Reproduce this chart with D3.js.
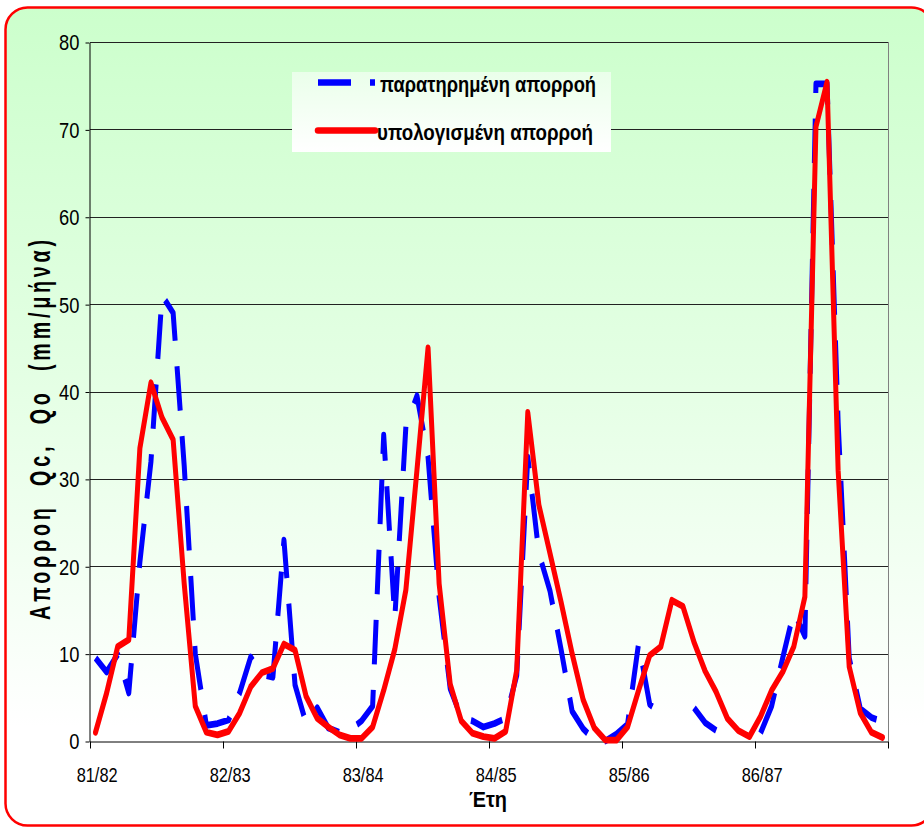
<!DOCTYPE html>
<html>
<head>
<meta charset="utf-8">
<script src="https://cdn.jsdelivr.net/npm/d3@7"></script>
<style>
  html, body { margin: 0; padding: 0; background: #ffffff; }
  svg { display: block; }
</style>
</head>
<body>
<svg id="chart" width="924" height="828"></svg>
<script>
// Hydrological years shown on the category axis (12 monthly values each)
const years = ["81/82", "82/83", "83/84", "84/85", "85/86", "86/87"];

// Observed monthly runoff (mm/month); null = no value plotted
const observed = [
  9.5, 7.9, 9.9, 5.5, 20.5, 32.0, 51.0, 49.0, 31.5, 10.0, 1.8, 2.0,
  2.4, 5.5, 9.6, 7.6, 7.3, 23.0, 6.4, 2.0, 3.8, 1.5, 1.0, 1.3,
  2.3, 4.0, 35.0, 14.0, 36.0, 39.5, 32.5, 16.5, 6.0, 2.7, 2.3, 1.6,
  2.0, 2.6, 7.5, 32.5, 21.5, 17.2, 10.5, 3.4, 1.4, 0.1, 0.0, 0.8,
  1.9, 11.2, 4.2, 3.2, null, null, 3.8, 2.1, 1.2, null, null, null,
  0.9, 4.0, 9.5, 14.8, 12.0, 75.2, 75.2, 36.5, 9.5, 3.7, 2.7, 2.2
];

// Computed (model) monthly runoff (mm/month)
const computed = [
  1.0, 5.5, 10.8, 11.6, 33.5, 41.0, 37.0, 34.5, 18.0, 4.0, 1.0, 0.7,
  1.1, 3.2, 6.2, 7.8, 8.3, 11.1, 10.4, 5.1, 2.6, 1.6, 0.7, 0.3,
  0.3, 1.6, 5.8, 10.5, 17.3, 31.0, 45.0, 18.0, 6.5, 2.3, 0.9, 0.5,
  0.3, 1.1, 8.1, 37.6, 27.0, 21.5, 15.9, 10.0, 4.7, 1.5, 0.1, 0.1,
  1.6, 5.8, 9.8, 10.8, 16.1, 15.4, 11.3, 8.0, 5.6, 2.6, 1.2, 0.5,
  2.8, 5.8, 7.9, 10.8, 16.5, 70.3, 75.4, 31.0, 8.5, 3.2, 1.0, 0.4
];

const yTicks = [0, 10, 20, 30, 40, 50, 60, 70, 80];

const seriesNames = ["παρατηρημένη απορροή", "υπολογισμένη απορροή"];
const yTitle = "Απορροη  Qc,  Qo  (mm/μήνα)";
const xTitle = "Έτη";

const svg = d3.select("#chart");
const plot = { left: 90, right: 888, top: 42, bottom: 741 };
const stretch = 1.35;            // the series are drawn vertically stretched
const FONT = "'Liberation Sans', Arial, sans-serif";

const defs = svg.append("defs");
const bg = defs.append("linearGradient").attr("id", "bgGrad")
  .attr("x1", 0).attr("y1", 0).attr("x2", 0).attr("y2", 1);
bg.append("stop").attr("offset", "0").attr("stop-color", "#ccffcc");
bg.append("stop").attr("offset", "0.45").attr("stop-color", "#e4ffe4");
bg.append("stop").attr("offset", "0.88").attr("stop-color", "#ffffff");
bg.append("stop").attr("offset", "1").attr("stop-color", "#ffffff");

const lg = defs.append("linearGradient").attr("id", "legGrad")
  .attr("x1", 0).attr("y1", 0).attr("x2", 0).attr("y2", 1);
lg.append("stop").attr("offset", "0").attr("stop-color", "#eaffea");
lg.append("stop").attr("offset", "1").attr("stop-color", "#ffffff");

// chart background with rounded red frame
svg.append("rect")
  .attr("x", 5.5).attr("y", 7.5).attr("width", 928).attr("height", 818)
  .attr("rx", 22).attr("ry", 22)
  .attr("fill", "url(#bgGrad)")
  .attr("stroke", "#ff0000").attr("stroke-width", 2.5);

// scales
const x = d3.scaleBand().domain(d3.range(observed.length)).range([plot.left, plot.right]);
const bw = x.bandwidth();
const xYear = d3.scaleLinear().domain([0, years.length]).range([plot.left, plot.right]);
const y = d3.scaleLinear().domain([0, 80]).range([plot.bottom, plot.top]);
const yLocal = d3.scaleLinear().domain([0, 80]).range([(plot.bottom - plot.top) / stretch, 0]);

// horizontal gridlines
svg.append("g")
  .selectAll("line").data(yTicks.filter(d => d > 0)).join("line")
  .attr("x1", plot.left).attr("x2", plot.right)
  .attr("y1", d => Math.round(y(d)) + 0.5).attr("y2", d => Math.round(y(d)) + 0.5)
  .attr("stroke", "#222").attr("stroke-width", 1);

// right border of the plot area
svg.append("line")
  .attr("x1", plot.right + 0.5).attr("x2", plot.right + 0.5)
  .attr("y1", Math.round(y(80))).attr("y2", plot.bottom)
  .attr("stroke", "#808080").attr("stroke-width", 1);

// y axis
const yAxis = svg.append("g")
  .attr("transform", `translate(${plot.left - 0.5},0.5)`)
  .call(d3.axisLeft(y).tickValues(yTicks).tickSize(4).tickPadding(6).tickSizeOuter(0));
yAxis.select(".domain").attr("stroke", "#000");
yAxis.selectAll(".tick line").attr("stroke", "#000");
yAxis.selectAll(".tick text")
  .attr("font-family", FONT).attr("font-size", 22).attr("fill", "#000")
  .attr("dy", "0.34em")
  .attr("textLength", d => String(d).length * 10.2)
  .attr("lengthAdjust", "spacingAndGlyphs");

// x axis with ticks at year boundaries
const xAxis = svg.append("g")
  .attr("transform", `translate(0,${plot.bottom + 0.5})`)
  .call(d3.axisBottom(xYear).tickValues(d3.range(years.length + 1)).tickFormat("")
    .tickSize(7).tickSizeOuter(0));
xAxis.select(".domain").attr("stroke", "#000");
xAxis.selectAll(".tick line").attr("stroke", "#000");

// year labels under the first month of each year
svg.append("g").selectAll("text").data(years).join("text")
  .attr("x", (d, k) => x(k * 12) + bw / 2 + 1.6)
  .attr("y", 782)
  .attr("text-anchor", "middle")
  .attr("font-family", FONT).attr("font-size", 21).attr("fill", "#000")
  .attr("textLength", 41).attr("lengthAdjust", "spacingAndGlyphs")
  .text(d => d);

// series, drawn in a vertically stretched frame
const series = svg.append("g")
  .attr("transform", `translate(0,${plot.top}) scale(1,${stretch})`);

const lineGen = d3.line()
  .defined(d => d !== null)
  .x((d, i) => x(i) + bw / 2)
  .y(d => yLocal(d));

series.append("path")
  .datum(observed)
  .attr("d", lineGen)
  .attr("fill", "none")
  .attr("stroke", "#0000ff").attr("stroke-width", 5)
  .attr("stroke-dasharray", "33,19")
  .attr("stroke-linejoin", "round");

series.append("path")
  .datum(computed)
  .attr("d", lineGen)
  .attr("fill", "none")
  .attr("stroke", "#ff0000").attr("stroke-width", 5)
  .attr("stroke-linejoin", "round").attr("stroke-linecap", "round");

// legend
const legend = svg.append("g");
legend.append("rect")
  .attr("x", 292).attr("y", 72).attr("width", 319).attr("height", 80)
  .attr("fill", "url(#legGrad)");
const legendRows = [
  { name: seriesNames[0], color: "#0000ff", dash: "33,19", cap: "butt", ly: 82.5, ty: 92, tx: 380 },
  { name: seriesNames[1], color: "#ff0000", dash: null, cap: "round", ly: 130.5, ty: 140, tx: 377 }
];
legendRows.forEach(r => {
  legend.append("line")
    .attr("x1", 318).attr("x2", 375).attr("y1", r.ly).attr("y2", r.ly)
    .attr("stroke", r.color).attr("stroke-width", 6.5)
    .attr("stroke-dasharray", r.dash)
    .attr("stroke-linecap", r.cap);
  legend.append("text")
    .attr("x", r.tx).attr("y", r.ty)
    .attr("font-family", FONT).attr("font-size", 22).attr("font-weight", "bold")
    .attr("fill", "#000")
    .attr("textLength", 216).attr("lengthAdjust", "spacingAndGlyphs")
    .text(r.name);
});

// axis titles
svg.append("text")
  .attr("transform", "translate(50,430) rotate(-90) scale(0.68,1)")
  .attr("text-anchor", "middle")
  .attr("font-family", FONT).attr("font-size", 29).attr("font-weight", "bold")
  .attr("fill", "#000")
  .attr("xml:space", "preserve").style("white-space", "pre")
  .attr("textLength", 380 / 0.68).attr("lengthAdjust", "spacing")
  .text(yTitle);

svg.append("text")
  .attr("x", 469).attr("y", 807)
  .attr("font-family", FONT).attr("font-size", 22).attr("font-weight", "bold")
  .attr("fill", "#000")
  .attr("textLength", 38).attr("lengthAdjust", "spacingAndGlyphs")
  .text(xTitle);
</script>
</body>
</html>
